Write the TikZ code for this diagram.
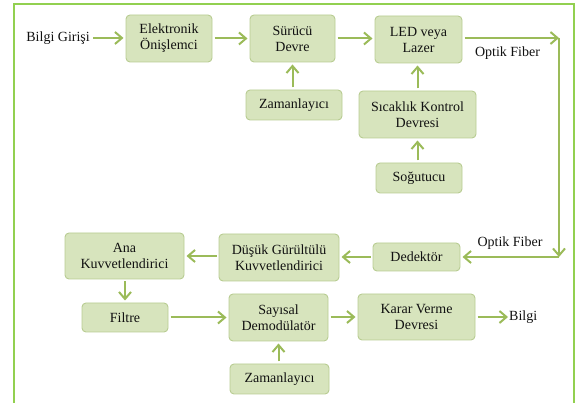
\documentclass[tikz,border=0pt]{standalone}
\usepackage{fontspec}
\setmainfont{Liberation Serif}
\newfontfamily\serf{Liberation Serif}
\usetikzlibrary{arrows.meta}
\definecolor{boxfill}{HTML}{D7E4BD}
\definecolor{boxline}{HTML}{B8CC92}
\definecolor{arrgreen}{HTML}{9BBB59}
\definecolor{framegreen}{HTML}{92D050}
\definecolor{txt}{HTML}{111111}
\tikzset{
  blk/.style={draw=boxline, fill=boxfill, line width=0.9pt, rounded corners=4pt,
    align=center, inner sep=0pt, outer sep=2.5pt, text=txt,
    font=\serf\fontsize{14}{16}\selectfont},
  lbl/.style={inner sep=0pt, text=txt, font=\serf\fontsize{14}{16}\selectfont},
  arr/.style={draw=arrgreen, line width=2pt, -{Straight Barb[length=7pt,width=12pt]}},
}
\begin{document}
\begin{tikzpicture}[x=1pt,y=-1pt]
\useasboundingbox (0,0) rectangle (576,403);
% frame
\draw[framegreen, line width=2.6pt] (14,403) -- (14,4) -- (574,4) -- (574,403);
% boxes
\node[blk, minimum width=86pt, minimum height=47pt] (elek) at (169,38.5) {Elektronik\\Önişlemci};
\node[blk, minimum width=85pt, minimum height=47pt] (surucu) at (292.5,38.5) {Sürücü\\Devre};
\node[blk, minimum width=96pt, minimum height=30pt] (zam1) at (294,105) {Zamanlayıcı};
\node[blk, minimum width=87pt, minimum height=47pt] (led) at (418.5,39.5) {LED veya\\Lazer};
\node[blk, minimum width=117pt, minimum height=47pt] (sicak) at (417.5,114.5) {Sıcaklık Kontrol\\Devresi};
\node[blk, minimum width=86pt, minimum height=30pt] (sogut) at (419,178) {Soğutucu};
\node[blk, minimum width=119pt, minimum height=46pt] (ana) at (124.5,256) {Ana\\Kuvvetlendirici};
\node[blk, minimum width=120pt, minimum height=47pt] (dusuk) at (279,257.5) {Düşük Gürültülü\\Kuvvetlendirici};
\node[blk, minimum width=87pt, minimum height=28pt] (dedek) at (416.5,257) {Dedektör};
\node[blk, minimum width=86pt, minimum height=29pt] (filtre) at (125,317.5) {Filtre};
\node[blk, minimum width=99pt, minimum height=47pt] (sayisal) at (278.5,317.5) {Sayısal\\Demodülatör};
\node[blk, minimum width=99pt, minimum height=30pt] (zam2) at (279.5,379) {Zamanlayıcı};
\node[blk, minimum width=117pt, minimum height=46pt] (karar) at (416.5,317) {Karar Verme\\Devresi};
% labels
\node[lbl, anchor=east] (giris) at (90,38) {Bilgi Girişi};
\node[lbl, anchor=west] (bilgi) at (509,317) {Bilgi};
\node[lbl] (of1) at (507.5,53) {Optik Fiber};
\node[lbl] (of2) at (510,243) {Optik Fiber};
\coordinate (c1) at (559,38);
\coordinate (c2) at (559,257);
% arrows
\draw[arr] ([xshift=3pt]giris.east) -- (elek.west |- giris.east);
\draw[arr] (elek) -- (surucu);
\draw[arr] (surucu) -- (led.west |- surucu.east);
\draw[arr] (zam1.north -| surucu.south) -- (surucu.south);
\draw[arr] (sicak.north) -- (sicak.north |- led.south);
\draw[arr] (sogut.north -| sicak.south) -- (sicak.south);
\draw[arr] (led.east |- c1) -- (c1);
\draw[arr] (c1) -- (c2);
\draw[arr] (c2) -- (dedek.east |- c2);
\draw[arr] (dedek.west |- c2) -- (dusuk.east |- c2);
\draw[arr] (dusuk.west |- ana.east) -- (ana.east);
\draw[arr] (ana.south -| filtre.north) -- (filtre.north);
\draw[arr] (filtre.east) -- (sayisal.west |- filtre.east);
\draw[arr] (zam2.north -| sayisal.south) -- (sayisal.south);
\draw[arr] (sayisal.east |- karar.west) -- (karar.west);
\draw[arr] (karar.east) -- ([xshift=-1pt]bilgi.west);
\end{tikzpicture}
\end{document}
